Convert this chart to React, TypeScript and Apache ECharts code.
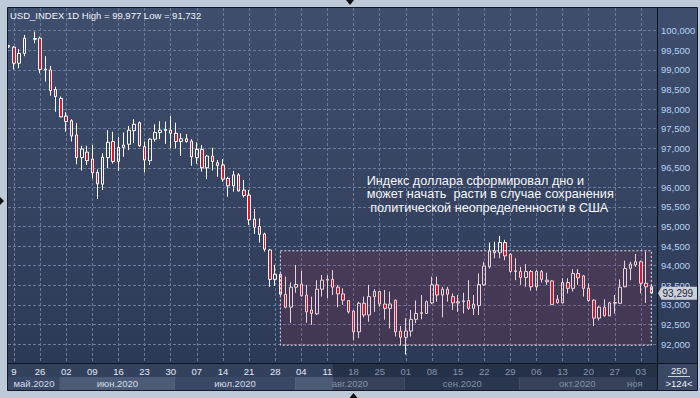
import React, { useEffect, useRef } from 'react';
import * as echarts from 'echarts';

// ---------- data ----------
const FIRST_DAY = '2020-05-18';
const SLOTS = 125; // 124 trading days shown + one empty slot at the right edge

const OPEN = [
  99.59, 99.58, 99.17, 99.42, null, 99.78, 99.81, 99.00, 99.00, 98.50,
  98.27, 97.82, 97.70, 97.34, 96.76, 96.90, 96.72, 96.38, 96.08, 96.76,
  97.17, 96.66, 97.02, 97.10, 97.45, 97.65, 97.04, 96.68, 97.23, 97.40,
  97.45, 97.46, 97.38, 97.17, 97.24, 97.18, 96.76, 96.97, 96.50, 96.80,
  96.63, 96.57, 96.23, 96.04, 96.32, 95.93, 95.80, 95.19, 95.00, 94.81,
  94.40, 93.65, 93.78, 93.27, 92.94, 93.45, 93.53, 93.25, 92.87, 92.77,
  93.40, 93.63, 93.65, 93.45, 93.28, 93.11, 92.84, 92.31, 93.04, 92.74,
  93.21, 93.34, 93.02, 92.91, 93.12, 92.33, 92.17, 92.33, 92.63, 92.78,
  92.78, 93.05, 93.51, 93.25, 93.40, 93.21, 93.05, 93.08, 93.11, 92.91,
  92.98, 93.51, 93.97, 94.33, 94.33, 94.59, 94.29, 93.85, 93.85, 93.70,
  93.85, 93.46, 93.85, 93.63, 93.61, 93.14, 93.05, 93.57, 93.42, 93.80,
  93.74, 93.42, 93.12, 92.66, 92.94, 92.72, 93.04, 93.04, 93.46, 93.93,
  94.02, 94.10, 93.55, 93.46,
];
const CLOSE = [
  99.62, 99.17, 99.42, 99.81, null, 99.80, 99.01, 99.02, 98.47, 98.32,
  97.80, 97.68, 97.31, 96.76, 96.98, 96.68, 96.37, 96.09, 96.77, 97.15,
  96.66, 97.02, 97.08, 97.46, 97.61, 97.06, 96.70, 97.23, 97.40, 97.46,
  97.48, 97.38, 97.17, 97.24, 97.17, 96.78, 96.97, 96.50, 96.80, 96.66,
  96.56, 96.21, 96.04, 96.32, 95.91, 95.79, 95.17, 94.98, 94.80, 94.42,
  93.65, 93.78, 93.27, 92.94, 93.45, 93.52, 93.23, 92.82, 92.78, 93.40,
  93.63, 93.65, 93.45, 93.28, 93.12, 92.82, 92.31, 93.04, 92.74, 93.21,
  93.34, 93.02, 92.91, 93.02, 92.31, 92.17, 92.33, 92.63, 92.78, 92.80,
  93.08, 93.51, 93.25, 93.40, 93.27, 93.05, 93.08, 93.10, 92.91, 93.02,
  93.52, 93.99, 94.38, 94.38, 94.59, 94.25, 93.85, 93.87, 93.70, 93.85,
  93.46, 93.85, 93.65, 93.59, 93.01, 93.05, 93.57, 93.42, 93.80, 93.69,
  93.42, 93.11, 92.66, 92.94, 92.72, 93.05, 93.06, 93.45, 93.93, 94.04,
  94.10, 93.55, 93.46, 93.30,
];
const HIGH = [
  99.64, 99.61, 99.53, 99.89, null, 99.977, 99.85, 99.35, 99.10, 98.57,
  98.32, 97.92, 97.74, 97.64, 97.06, 97.06, 97.08, 96.46, 96.87, 97.46,
  97.42, 97.29, 97.40, 97.57, 97.74, 97.68, 97.17, 97.25, 97.61, 97.69,
  97.68, 97.82, 97.65, 97.38, 97.36, 97.23, 97.15, 97.08, 96.83, 97.01,
  96.70, 96.72, 96.27, 96.42, 96.36, 96.19, 95.93, 95.45, 95.21, 94.84,
  94.43, 94.02, 93.80, 93.72, 93.57, 94.02, 93.87, 93.51, 93.21, 93.63,
  93.76, 93.76, 93.89, 93.51, 93.42, 93.12, 92.87, 93.08, 93.21, 93.51,
  93.40, 93.35, 93.38, 93.34, 93.13, 92.46, 92.66, 92.87, 93.11, 93.25,
  93.11, 93.72, 93.72, 93.46, 93.46, 93.29, 93.25, 93.31, 93.63, 93.25,
  93.80, 94.10, 94.59, 94.61, 94.76, 94.66, 94.32, 94.19, 93.97, 94.04,
  93.89, 93.89, 93.89, 93.82, 93.63, 93.25, 93.68, 93.68, 93.91, 93.91,
  93.76, 93.55, 93.14, 92.97, 93.14, 93.08, 93.25, 93.65, 94.13, 94.10,
  94.30, 94.13, 94.36, 93.51,
];
const LOW = [
  99.56, 99.01, 99.04, 99.35, null, 99.68, 98.91, 98.70, 98.34, 97.93,
  97.79, 97.42, 97.17, 96.59, 96.43, 96.57, 96.23, 95.70, 95.93, 96.49,
  96.61, 96.42, 96.78, 96.95, 97.13, 97.04, 96.38, 96.57, 97.17, 97.23,
  97.11, 97.00, 97.00, 96.80, 97.14, 96.55, 96.60, 96.40, 96.21, 96.43,
  96.27, 96.14, 95.76, 95.89, 95.89, 95.74, 95.04, 94.81, 94.59, 94.36,
  93.46, 93.48, 93.23, 92.91, 92.54, 93.31, 93.21, 92.54, 92.49, 92.74,
  93.21, 93.17, 93.25, 92.94, 93.00, 92.78, 92.10, 92.15, 92.68, 92.57,
  92.82, 92.95, 92.62, 92.40, 92.19, 91.97, 91.732, 92.19, 92.53, 92.63,
  92.77, 93.02, 93.08, 92.68, 93.08, 92.87, 92.82, 92.78, 92.87, 92.74,
  92.74, 93.49, 93.93, 94.19, 94.19, 94.14, 93.82, 93.63, 93.51, 93.46,
  93.36, 93.36, 93.57, 93.51, 93.00, 93.04, 93.04, 93.29, 93.34, 93.51,
  93.21, 93.08, 92.46, 92.60, 92.70, 92.71, 92.78, 93.02, 93.45, 93.63,
  93.97, 93.29, 93.05, 93.28,
];

const PRICE_MIN = 92;
const PRICE_MAX = 100;
const PRICE_STEP = 0.5;
const LAST_PRICE = 93.299;

const MONTH_NAMES = ['май.2020', 'июн.2020', 'июл.2020', 'авг.2020', 'сен.2020', 'окт.2020', 'ноя.2020'];
const MONTH_FIRST_SLOT = [0, 10, 32, 55, 76, 98, 120];

const BOX_FROM = 52;
const BOX_TO = 123;
const BOX_TOP = 94.38;
const BOX_BOTTOM = 91.97;

const TITLE = 'USD_INDEX 1D High = 99,977 Low = 91,732';
const NOTE_LINES = [
  'Индекс доллара сформировал дно и',
  'может начать  расти в случае сохранения',
  ' политической неопределенности в США',
];
const BARS_TOTAL = '250';
const BARS_SHOWN = '>124<';

// ---------- layout constants ----------
const PL = 8, PT = 8, PR = 657, PB = 363, OUTR = 697, AXB = 390;
const BAND = 5.2248;
const FONT = '"Liberation Sans", Arial, sans-serif';
const DIM_FROM = '2020-08-12';
const DIM_X = 333;

function buildDates(): string[] {
  const out: string[] = [];
  const d = new Date(FIRST_DAY + 'T12:00:00Z');
  while (out.length < SLOTS) {
    const wd = d.getUTCDay();
    if (wd !== 0 && wd !== 6) out.push(d.toISOString().slice(0, 10));
    d.setUTCDate(d.getUTCDate() + 1);
  }
  return out;
}
const DATES = buildDates();

const fmtPrice = (v: number) => v.toFixed(3).replace('.', ',');
const isLabelSlot = (i: number) => i % 5 === 1;

export default function App() {
  const ref = useRef<HTMLDivElement>(null);

  useEffect(() => {
    const chart = echarts.init(ref.current!, null, { renderer: 'svg' });

    const candles = DATES.map((_, i) =>
      OPEN[i] == null ? '-' : [OPEN[i], CLOSE[i], LOW[i], HIGH[i]]
    );

    // pixel mapping of the candle grid: 100 at y=30.7, 92 at y=344
    const pxPerUnit = (344 - 30.7) / 8;
    const yMax = 100 + (30.7 - PT) / pxPerUnit;
    const yMin = 100 - (PB - 30.7) / pxPerUnit;
    const gridLeft = 8.7 - BAND / 2;
    const gridWidth = BAND * SLOTS;

    const dash = { color: '#6a7b9b', width: 1, type: [3, 2] as any };

    chart.setOption({
      animation: false,
      backgroundColor: '#bfcad8',
      grid: [
        { left: gridLeft, top: PT, width: gridWidth, height: PB - PT, containLabel: false },
        { left: PL, top: 30.7, width: PR - PL, height: 344 - 30.7, containLabel: false },
      ],
      xAxis: [
        {
          type: 'category',
          gridIndex: 0,
          data: DATES,
          boundaryGap: true,
          axisLine: { show: false },
          axisTick: { show: false },
          splitLine: {
            show: true,
            interval: (i: number) => isLabelSlot(i),
            alignWithLabel: true,
            lineStyle: dash,
          },
          axisLabel: {
            interval: (i: number) => isLabelSlot(i),
            margin: 3,
            fontSize: 9.5,
            fontFamily: FONT,
            color: (v: string) => (v >= DIM_FROM ? '#8593ab' : '#e2e9f3'),
            formatter: (v: string, i: number) => (i === 1 ? v.slice(9) : v.slice(8)),
          },
        },
        { type: 'value', gridIndex: 1, min: 0, max: 1, show: false },
      ],
      yAxis: [
        { type: 'value', gridIndex: 0, min: yMin, max: yMax, show: false, splitLine: { show: false } },
        {
          type: 'value',
          gridIndex: 1,
          position: 'right',
          min: PRICE_MIN,
          max: PRICE_MAX,
          interval: PRICE_STEP,
          axisLine: { show: false },
          axisTick: { show: false },
          splitLine: { show: true, lineStyle: dash },
          axisLabel: {
            margin: 4,
            fontSize: 9.5,
            fontFamily: FONT,
            color: '#b6d3f3',
            formatter: (v: number) => fmtPrice(v),
          },
        },
      ],
      series: [
        {
          type: 'candlestick',
          xAxisIndex: 0,
          yAxisIndex: 0,
          data: candles,
          barWidth: 3,
          silent: true,
          itemStyle: {
            color: 'rgba(0,0,0,0)',
            color0: '#e3122f',
            borderColor: '#ffffff',
            borderColor0: '#ffffff',
            borderWidth: 1,
          },
        },
      ],
    });

    const xOf = (i: number) => chart.convertToPixel({ xAxisIndex: 0 }, DATES[i]) as unknown as number;
    const yOf = (v: number) => chart.convertToPixel({ yAxisIndex: 0 }, v) as unknown as number;

    const plotFill = {
      type: 'linear', x: 0, y: 0, x2: 0, y2: 1,
      colorStops: [
        { offset: 0, color: '#3f4e6d' },
        { offset: 1, color: '#2d3a56' },
      ],
    };

    const els: any[] = [];
    // backgrounds
    els.push({ type: 'rect', z: -10, silent: true, shape: { x: PL, y: PT, width: PR - PL, height: PB - PT }, style: { fill: plotFill } });
    els.push({ type: 'rect', z: -10, silent: true, shape: { x: PR, y: PT, width: OUTR - PR, height: PB - PT }, style: { fill: plotFill } });
    els.push({ type: 'rect', z: -10, silent: true, shape: { x: PL, y: PB, width: PR - PL, height: 14 }, style: { fill: '#33415d' } });

    // month bands + labels
    MONTH_NAMES.forEach((name, m) => {
      const x0 = m === 0 ? PL : xOf(MONTH_FIRST_SLOT[m]) - 1;
      const x1 = m + 1 < MONTH_NAMES.length ? xOf(MONTH_FIRST_SLOT[m + 1]) - 1 : PR;
      els.push({
        type: 'rect', z: -10, silent: true,
        shape: { x: x0, y: PB + 14, width: x1 - x0, height: AXB - PB - 14 },
        style: { fill: m % 2 === 1 ? '#4d5b77' : '#3a4866' },
      });
      const last = m === MONTH_NAMES.length - 1;
      const tx = last ? PR - 30 : (x0 + x1) / 2;
      els.push({
        type: 'text', z: 1, silent: true, x: tx, y: 383,
        style: {
          text: name, font: `9.5px ${FONT}`, align: last ? 'left' : 'center', verticalAlign: 'middle',
          fill: tx > DIM_X ? '#8191a9' : '#d3dbe8',
          ...(last ? { width: 31, overflow: 'truncate', ellipsis: '' } : {}),
        },
      });
    });
    // dimmed right part of the time axis
    els.push({ type: 'rect', z: -9, silent: true, shape: { x: DIM_X, y: PB, width: PR - DIM_X, height: AXB - PB }, style: { fill: 'rgba(10,16,30,0.32)' } });

    // bottom-right cell
    els.push({ type: 'rect', z: 5, silent: true, shape: { x: PR, y: PB, width: OUTR - PR, height: AXB - PB }, style: { fill: '#3a4866' } });
    els.push({ type: 'text', z: 6, silent: true, x: 679, y: 370, style: { text: BARS_TOTAL, font: `9.5px ${FONT}`, align: 'center', verticalAlign: 'middle', fill: '#eef2f8' } });
    els.push({ type: 'line', z: 6, silent: true, shape: { x1: 668, y1: 376.5, x2: 690, y2: 376.5 }, style: { stroke: '#c8d2e0', lineWidth: 1 } });
    els.push({ type: 'text', z: 6, silent: true, x: 679, y: 383.5, style: { text: BARS_SHOWN, font: `9.5px ${FONT}`, align: 'center', verticalAlign: 'middle', fill: '#eef2f8' } });

    // range box
    const bx0 = xOf(BOX_FROM), bx1 = xOf(BOX_TO);
    const by0 = yOf(BOX_TOP), by1 = yOf(BOX_BOTTOM);
    els.push({
      type: 'rect', z: 10, silent: true,
      shape: { x: bx0, y: by0, width: bx1 - bx0, height: by1 - by0 },
      style: { fill: 'rgba(150,40,70,0.2)', stroke: '#e8e8f0', lineWidth: 1, lineDash: [2, 2] },
    });

    // last price marker
    const py = yOf(LAST_PRICE);
    els.push({
      type: 'polygon', z: 20, silent: true,
      shape: { points: [[PR + 1, py], [PR + 4.5, py - 6.5], [OUTR, py - 6.5], [OUTR, py + 6.5], [PR + 4.5, py + 6.5]] },
      style: { fill: '#cbd0d8' },
    });
    els.push({
      type: 'text', z: 21, silent: true, x: PR + 5.5, y: py + 0.5,
      style: { text: fmtPrice(LAST_PRICE), font: `10px ${FONT}`, align: 'left', verticalAlign: 'middle', fill: '#1b2440' },
    });

    // frame (covers the left overflow) and border lines
    els.push({ type: 'rect', z: 15, silent: true, shape: { x: 0, y: 0, width: 7, height: 398 }, style: { fill: '#bfcad8' } });
    els.push({ type: 'rect', z: 15, silent: true, shape: { x: 0, y: 0, width: 700, height: 7 }, style: { fill: '#bfcad8' } });
    els.push({ type: 'rect', z: 16, silent: true, shape: { x: 7.5, y: 7.5, width: OUTR - 7, height: AXB - 7 }, style: { fill: 'none', stroke: '#121a29', lineWidth: 1 } });
    els.push({ type: 'line', z: 16, silent: true, shape: { x1: PR + 0.5, y1: PT, x2: PR + 0.5, y2: AXB }, style: { stroke: '#0e1522', lineWidth: 1 } });
    els.push({ type: 'line', z: 16, silent: true, shape: { x1: PL, y1: PB + 0.5, x2: OUTR, y2: PB + 0.5 }, style: { stroke: '#0e1522', lineWidth: 1 } });

    // scroll markers
    els.push({ type: 'polygon', z: 16, silent: true, shape: { points: [[346, 0], [354, 0], [350, 5]] }, style: { fill: '#111111' } });
    els.push({ type: 'polygon', z: 16, silent: true, shape: { points: [[349.5, 398], [357.5, 398], [353.5, 393]] }, style: { fill: '#111111' } });
    els.push({ type: 'polygon', z: 16, silent: true, shape: { points: [[0, 197], [0, 205], [4, 201]] }, style: { fill: '#111111' } });

    // title and note
    els.push({ type: 'text', z: 20, silent: true, x: 10, y: 15, style: { text: TITLE, font: `9.5px ${FONT}`, align: 'left', verticalAlign: 'middle', fill: '#eef2f8' } });
    NOTE_LINES.forEach((t, k) => {
      els.push({
        type: 'text', z: 20, silent: true, x: 366.7, y: 180.7 + k * 13.5,
        style: { text: t, font: `12.7px ${FONT}`, align: 'left', verticalAlign: 'middle', fill: '#f4f6fa' },
      });
    });

    chart.setOption({ graphic: { elements: els } });

    return () => chart.dispose();
  }, []);

  return <div ref={ref} style={{ position: 'fixed', left: 0, top: 0, width: 700, height: 398 }} />;
}
